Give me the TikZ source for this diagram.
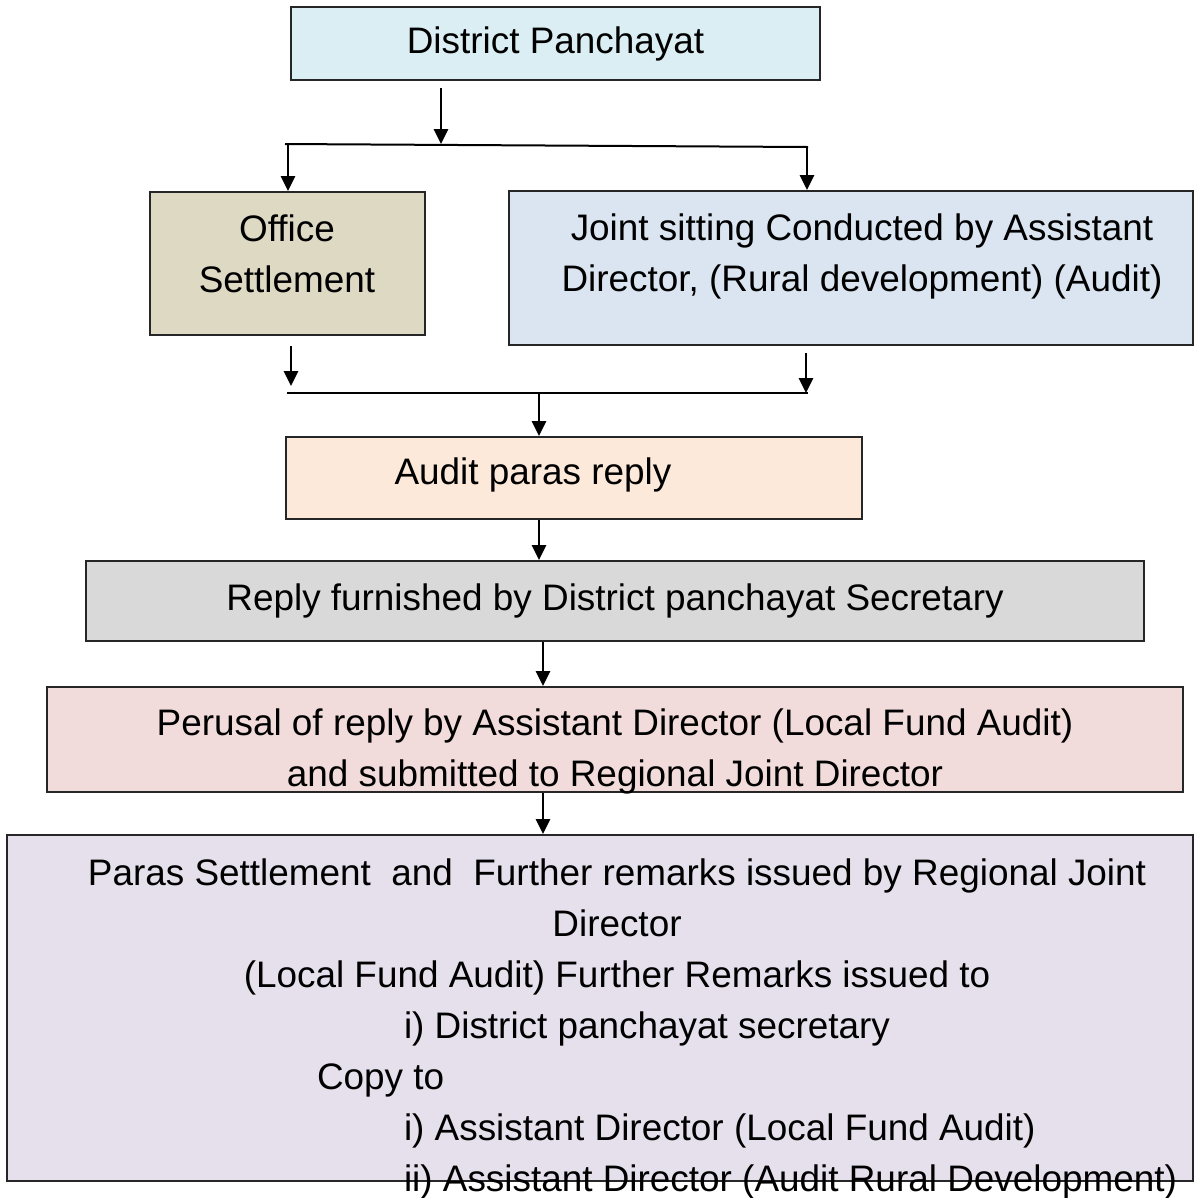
\documentclass[tikz,border=0pt]{standalone}
\usepackage{fontspec}
\setmainfont{Liberation Sans}
\usetikzlibrary{arrows.meta, calc}
\definecolor{cdist}{HTML}{DAEEF3}
\definecolor{coffice}{HTML}{DDD9C3}
\definecolor{cjoint}{HTML}{DBE5F1}
\definecolor{caudit}{HTML}{FDE9D9}
\definecolor{creply}{HTML}{D9D9D9}
\definecolor{cperusal}{HTML}{F2DCDB}
\definecolor{cparas}{HTML}{E5E0EC}
\definecolor{cline}{HTML}{262626}
\tikzset{
  every picture/.style={x=0.02cm, y=-0.02cm, line width=0.04cm},
  box/.style={draw=cline, fill=#1, inner sep=0pt, font=\fontsize{21pt}{29pt}\selectfont},
  arrow/.style={-{Triangle[width=0.28cm, length=0.3cm]}, line width=0.055cm},
  txt/.style={font=\fontsize{21pt}{29pt}\selectfont, align=center, inner sep=0pt},
}
\begin{document}
\begin{tikzpicture}
  \useasboundingbox[fill=white] (0,0) rectangle (1195,1198);
  % boxes, from top to bottom
  \node[box=cdist, minimum width=10.58cm, minimum height=1.46cm] (dp) at (555.5,43.5) {District Panchayat};
  \node[box=coffice, minimum width=5.5cm, minimum height=2.86cm] (office) at (287.5,263.5) {};
  \node[txt] (officetxt) at (287,254) {Office\\Settlement};
  \node[box=cjoint, minimum width=13.68cm, minimum height=3.08cm] (joint) at (851,268) {};
  \node[txt] (jointtxt) at (862,256) {Joint sitting Conducted by Assistant\\Director, (Rural development) (Audit)};
  \node[box=caudit, minimum width=11.52cm, minimum height=1.64cm] (audit) at (574,478) {};
  \node[txt] (audittxt) at (533,474.5) {Audit paras reply};
  \node[box=creply, minimum width=21.16cm, minimum height=1.6cm] (reply) at (615,601) {Reply furnished by District panchayat Secretary};
  \node[box=cperusal, minimum width=22.72cm, minimum height=2.1cm] (perusal) at (615,739.5) {};
  \node[txt] (perusaltxt) at (615,751) {Perusal of reply by Assistant Director (Local Fund Audit)\\and submitted to Regional Joint Director};
  \node[box=cparas, minimum width=23.72cm, minimum height=6.92cm] (paras) at (600,1008) {};
  \node[txt, anchor=north] (parastxt) at (617,858) {Paras Settlement~ and~ Further remarks issued by Regional Joint\\Director\\(Local Fund Audit) Further Remarks issued to};
  \node[txt, align=left, anchor=north west] (copytxt) at (403,1011) {i) District panchayat secretary\\\hspace*{-1.74cm}Copy to\\i) Assistant Director (Local Fund Audit)\\ii) Assistant Director (Audit Rural Development)};
  % split below District Panchayat
  \coordinate (barLa) at (285,144);
  \coordinate (barRa) at (808,147);
  \coordinate (splitin) at (441,144);
  \coordinate (toff) at (288,145);
  \coordinate (tjnt) at (807,147);
  \draw (barLa) -- (barRa);
  \draw[arrow] ($(dp.south -| splitin)+(0,7)$) -- (splitin);
  \draw[arrow] (toff) -- (toff |- office.north);
  \draw[arrow] (tjnt) -- (tjnt |- joint.north);
  % merge into Audit paras reply
  \coordinate (barLb) at (287,393);
  \coordinate (barRb) at (808,393);
  \coordinate (mergeL) at (291,386);
  \coordinate (mergeR) at (806,393);
  \coordinate (mergeout) at (539,393);
  \draw (barLb) -- (barRb);
  \draw[arrow] ($(office.south -| mergeL)+(0,10)$) -- (mergeL);
  \draw[arrow] ($(joint.south -| mergeR)+(0,7)$) -- (mergeR);
  \draw[arrow] (mergeout) -- (mergeout |- audit.north);
  \draw[arrow] (audit.south -| mergeout) -- (reply.north -| mergeout);
  % spine down to the last box
  \coordinate (spine) at (543,0);
  \draw[arrow] (reply.south -| spine) -- (perusal.north -| spine);
  \draw[arrow] (perusal.south -| spine) -- (paras.north -| spine);
\end{tikzpicture}
\end{document}
